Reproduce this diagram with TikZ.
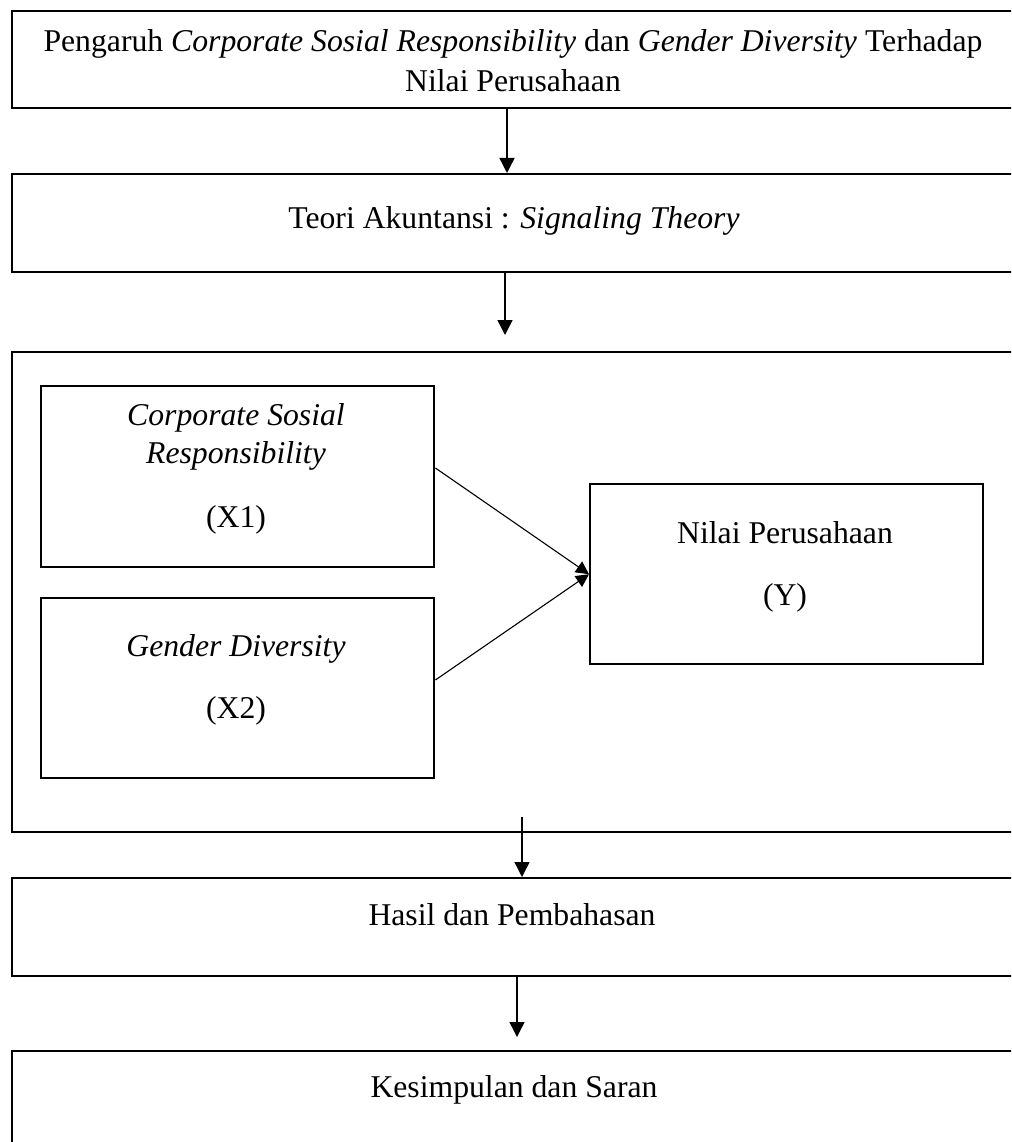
\documentclass[tikz,border=0pt]{standalone}
\usepackage{fontspec}
\setmainfont{Liberation Serif}
\usetikzlibrary{arrows.meta}
\begin{document}
\begin{tikzpicture}[x=1pt,y=-1pt,
  frame/.style={draw=black, line width=2.4pt, anchor=north west, inner sep=0pt, minimum width=1040pt},
  inbox/.style={draw=black, line width=2.4pt, anchor=north west, inner sep=0pt, minimum width=393pt},
  lbl/.style={font=\fontsize{31.7}{40}\selectfont, anchor=base, inner sep=0pt, align=center},
  arr/.style={draw=black, line width=1.4pt, -{Triangle[length=15pt,width=15pt]}},
  link/.style={draw=black, line width=1.1pt, -{Triangle[length=13pt,width=13pt]}}]
\useasboundingbox (0,0) rectangle (1011,1142);
\clip (0,0) rectangle (1011,1142);
\fill[white] (0,0) rectangle (1011,1142);
% outer boxes
\node[frame, minimum height=97pt] (b1) at (11,10) {};
\node[frame, minimum height=98pt] (b2) at (11,173) {};
\node[frame, minimum height=480pt] (b3) at (11,351) {};
\node[frame, minimum height=98pt] (b4) at (11,877) {};
\node[frame, minimum height=150pt] (b5) at (11,1050) {};
% inner boxes
\node[inbox, minimum height=181pt] (x1) at (40,385) {};
\node[inbox, minimum height=180pt] (x2) at (40,597) {};
\node[inbox, minimum height=180pt] (yb) at (589,483) {};
% texts (anchor base = baseline of the last line)
\node[lbl] (t1) at (513,92) {Pengaruh \textit{Corporate Sosial Responsibility} dan \textit{Gender Diversity} Terhadap\\Nilai Perusahaan};
\node[lbl] (t2) at (514,228) {Teori Akuntansi : \textit{Signaling Theory}};
\node[lbl, font=\fontsize{31.7}{38}\selectfont] (tx1) at (236,463) {\textit{Corporate Sosial}\\\textit{Responsibility}};
\node[lbl] (tx1v) at (236,527) {(X1)};
\node[lbl] (tx2) at (236,656) {\textit{Gender Diversity}};
\node[lbl] (tx2v) at (236,718) {(X2)};
\node[lbl] (ty) at (785,543) {Nilai Perusahaan};
\node[lbl] (tyv) at (785,605) {(Y)};
\node[lbl] (t4) at (512,925) {Hasil dan Pembahasan};
\node[lbl] (t5) at (514,1097) {Kesimpulan dan Saran};
% connectors
\coordinate (c1) at (507,0);
\coordinate (e2) at (505,335);
\coordinate (s3) at (522,817);
\coordinate (e4) at (517,1037);
\coordinate (l1) at (433,468);
\coordinate (l2) at (433,680);
\draw[arr] (b1.south -| c1) -- (b2.north -| c1);
\draw[arr] (b2.south -| e2) -- (e2);
\draw[arr] (s3) -- (b4.north -| s3);
\draw[arr] (b4.south -| e4) -- (e4);
\draw[link] (x1.east |- l1) -- (yb.west);
\draw[link] (x2.east |- l2) -- (yb.west);
\end{tikzpicture}
\end{document}
